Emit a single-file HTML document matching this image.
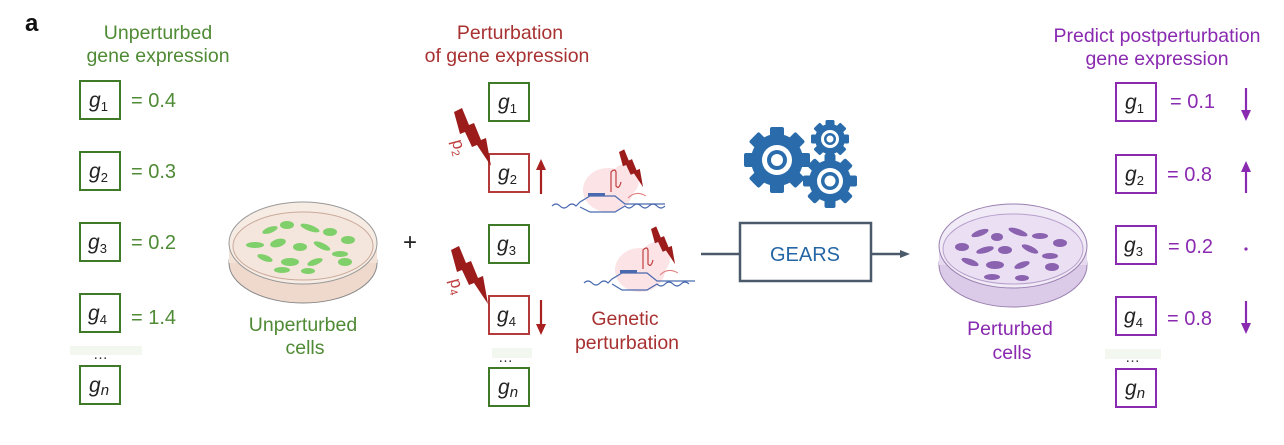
<!DOCTYPE html>
<html><head><meta charset="utf-8"><style>
html,body{margin:0;padding:0;background:#fff;}
svg{display:block;font-family:"Liberation Sans",sans-serif;}
</style></head><body>
<svg width="1284" height="445" viewBox="0 0 1284 445" xmlns="http://www.w3.org/2000/svg">
<defs>
<path id="bolt" d="M0,0 L8,-4 L15,13 L20,11 L27,28 L32,26 L37,54 L23,33 L18,35 L11,20 L6,22 Z" fill="#9c1c1c"/>
</defs>
<text x="25" y="31" font-size="24" font-weight="bold" fill="#111">a</text>

<!-- Left column -->
<g fill="#4f8a35" font-size="19.5" text-anchor="middle">
<text x="158" y="39">Unperturbed</text>
<text x="158" y="62">gene expression</text>
</g>
<g fill="#fff" stroke="#3e7a28" stroke-width="2">
<rect x="80" y="81" width="40" height="38"/>
<rect x="80" y="152" width="40" height="38"/>
<rect x="80" y="223" width="40" height="38"/>
<rect x="80" y="294" width="40" height="38"/>
<rect x="80" y="366" width="40" height="38"/>
</g>
<rect x="70" y="346" width="72" height="9" fill="#f2f8f0"/>
<g font-size="21" font-style="italic" fill="#222">
<text x="89" y="107">g<tspan font-size="13" font-style="normal" dy="4">1</tspan></text>
<text x="89" y="178">g<tspan font-size="13" font-style="normal" dy="4">2</tspan></text>
<text x="88" y="249">g<tspan font-size="13" font-style="normal" dy="4">3</tspan></text>
<text x="88" y="320">g<tspan font-size="13" font-style="normal" dy="4">4</tspan></text>
<text x="89" y="392">g<tspan font-size="15" dy="3">n</tspan></text>
</g>
<text x="93" y="359" font-size="15" fill="#333">…</text>
<g font-size="20" fill="#4f8a35">
<text x="131" y="107">= 0.4</text>
<text x="131" y="178">= 0.3</text>
<text x="131" y="249">= 0.2</text>
<text x="131" y="324">= 1.4</text>
</g>

<!-- Left dish -->
<ellipse cx="303" cy="263" rx="74" ry="40" fill="#efd9cc" stroke="#888" stroke-width="1"/>
<rect x="229" y="243" width="148" height="20" fill="#f3e2d6"/>
<ellipse cx="303" cy="243" rx="74" ry="41" fill="#f6ece4" stroke="#999" stroke-width="1"/>
<ellipse cx="303" cy="246" rx="70" ry="34" fill="#f4e6dc" stroke="#c9a99a" stroke-width="1"/>
<g fill="#7fcf6a">
<ellipse cx="270" cy="230" rx="8" ry="3" transform="rotate(-20 270 230)"/>
<ellipse cx="287" cy="225" rx="7" ry="4"/>
<ellipse cx="310" cy="228" rx="10" ry="3" transform="rotate(20 310 228)"/>
<ellipse cx="330" cy="232" rx="7" ry="4"/>
<ellipse cx="348" cy="240" rx="7" ry="4"/>
<ellipse cx="255" cy="245" rx="9" ry="3"/>
<ellipse cx="278" cy="243" rx="8" ry="4" transform="rotate(-15 278 243)"/>
<ellipse cx="300" cy="247" rx="7" ry="4"/>
<ellipse cx="322" cy="246" rx="9" ry="3" transform="rotate(25 322 246)"/>
<ellipse cx="340" cy="254" rx="8" ry="3"/>
<ellipse cx="265" cy="258" rx="8" ry="3" transform="rotate(20 265 258)"/>
<ellipse cx="290" cy="262" rx="9" ry="4"/>
<ellipse cx="315" cy="262" rx="8" ry="3" transform="rotate(-20 315 262)"/>
<ellipse cx="345" cy="262" rx="7" ry="4"/>
<ellipse cx="282" cy="270" rx="8" ry="3"/>
<ellipse cx="308" cy="271" rx="7" ry="3"/>
</g>
<g fill="#4f8a35" font-size="19.5" text-anchor="middle">
<text x="303" y="331">Unperturbed</text>
<text x="305" y="354">cells</text>
</g>

<text x="410" y="250" font-size="24" fill="#222" text-anchor="middle">+</text>

<!-- Middle column -->
<g fill="#a83232" font-size="19.5" text-anchor="middle">
<text x="510" y="39">Perturbation</text>
<text x="507" y="62">of gene expression</text>
</g>
<g fill="#fff" stroke-width="2">
<rect x="489" y="83" width="40" height="38" stroke="#3e7a28"/>
<rect x="489" y="154" width="40" height="38" stroke="#b53a3a"/>
<rect x="489" y="225" width="40" height="38" stroke="#3e7a28"/>
<rect x="489" y="296" width="40" height="38" stroke="#b53a3a"/>
<rect x="489" y="368" width="40" height="38" stroke="#3e7a28"/>
</g>
<rect x="492" y="348" width="40" height="10" fill="#f2f8f0"/>
<g font-size="21" font-style="italic" fill="#222">
<text x="498" y="109">g<tspan font-size="13" font-style="normal" dy="4">1</tspan></text>
<text x="498" y="180">g<tspan font-size="13" font-style="normal" dy="4">2</tspan></text>
<text x="497" y="251">g<tspan font-size="13" font-style="normal" dy="4">3</tspan></text>
<text x="497" y="322">g<tspan font-size="13" font-style="normal" dy="4">4</tspan></text>
<text x="498" y="394">g<tspan font-size="15" dy="3">n</tspan></text>
</g>
<text x="498" y="362" font-size="15" fill="#333">…</text>
<g stroke="#a82020" stroke-width="2.2" fill="#a82020">
<line x1="541" y1="194" x2="541" y2="168"/><polygon points="536,170 546,170 541,159" stroke="none"/>
<line x1="541" y1="300" x2="541" y2="326"/><polygon points="536,324 546,324 541,335" stroke="none"/>
</g>
<use href="#bolt" x="454" y="112"/>
<use href="#bolt" x="451" y="250"/>
<text x="448" y="146" font-size="17" fill="#c04040" transform="rotate(75 453 146)">p<tspan font-size="11" dy="3">2</tspan></text>
<text x="446" y="285" font-size="17" fill="#c04040" transform="rotate(75 451 285)">p<tspan font-size="11" dy="3">4</tspan></text>

<!-- DNA illustrations -->
<g>
<ellipse cx="608" cy="190" rx="25" ry="22" fill="#fbe3e6"/>
<ellipse cx="625" cy="180" rx="14" ry="16" fill="#fbe3e6"/>
<path d="M552,206 q4,-4 8,0 t8,0 t8,0 L580,202 L590,196 L615,196 L625,204 L665,204" stroke="#4a6ab0" fill="none" stroke-width="1.2"/>
<path d="M580,207 L590,212 L615,212 L625,206 q4,4 8,0 t8,0 t8,0 t8,0 t8,0" stroke="#4a6ab0" fill="none" stroke-width="1.2"/>
<rect x="588" y="193" width="17" height="3" fill="#4a6ab0"/>
<path d="M611,192 L611,172 q4,-4 5,0 L616,186 q3,4 5,-4" stroke="#c04040" fill="none" stroke-width="1.2"/>
<path d="M628,198 q8,-8 18,-2" stroke="#e08080" fill="none" stroke-width="1"/>
<use href="#bolt" transform="translate(619 152) scale(0.65)"/>
</g>
<g>
<ellipse cx="640" cy="270" rx="25" ry="22" fill="#fbe3e6"/>
<ellipse cx="656" cy="258" rx="14" ry="16" fill="#fbe3e6"/>
<path d="M584,283 q4,-4 8,0 t8,0 t8,0 L612,279 L622,273 L647,273 L657,281 L695,281" stroke="#4a6ab0" fill="none" stroke-width="1.2"/>
<path d="M612,284 L622,290 L647,290 L657,284 q4,4 8,0 t8,0 t8,0 t8,0" stroke="#4a6ab0" fill="none" stroke-width="1.2"/>
<rect x="620" y="270" width="17" height="3" fill="#4a6ab0"/>
<path d="M643,269 L643,250 q4,-4 5,0 L648,264 q3,4 5,-4" stroke="#c04040" fill="none" stroke-width="1.2"/>
<path d="M660,275 q8,-8 18,-2" stroke="#e08080" fill="none" stroke-width="1"/>
<use href="#bolt" transform="translate(651 229) scale(0.65)"/>
</g>
<g fill="#a83232" font-size="19.5" text-anchor="middle">
<text x="625" y="325">Genetic</text>
<text x="627" y="349">perturbation</text>
</g>

<!-- Gears -->
<g fill="#2a6cab">
<g transform="translate(777 160)">
<circle r="26"/>
<g><rect x="-7" y="-33" width="14" height="66" rx="2"/><rect x="-7" y="-33" width="14" height="66" rx="2" transform="rotate(45)"/><rect x="-7" y="-33" width="14" height="66" rx="2" transform="rotate(90)"/><rect x="-7" y="-33" width="14" height="66" rx="2" transform="rotate(135)"/></g>
<circle r="15" fill="#fff"/><circle r="10"/>
<circle r="6" fill="#fff"/>
</g>
<g transform="translate(830 139)">
<circle r="15"/>
<g><rect x="-4.5" y="-19" width="9" height="38" rx="1.5"/><rect x="-4.5" y="-19" width="9" height="38" rx="1.5" transform="rotate(45)"/><rect x="-4.5" y="-19" width="9" height="38" rx="1.5" transform="rotate(90)"/><rect x="-4.5" y="-19" width="9" height="38" rx="1.5" transform="rotate(135)"/></g>
<circle r="9" fill="#fff"/><circle r="6"/><circle r="3.5" fill="#fff"/>
</g>
<g transform="translate(830 181)">
<circle r="21"/>
<g><rect x="-5.5" y="-27" width="11" height="54" rx="2"/><rect x="-5.5" y="-27" width="11" height="54" rx="2" transform="rotate(45)"/><rect x="-5.5" y="-27" width="11" height="54" rx="2" transform="rotate(90)"/><rect x="-5.5" y="-27" width="11" height="54" rx="2" transform="rotate(135)"/></g>
<circle r="13" fill="#fff"/><circle r="9"/><circle r="5.5" fill="#fff"/>
</g>
</g>

<!-- GEARS box -->
<line x1="701" y1="254" x2="740" y2="254" stroke="#4b5a6a" stroke-width="2.5"/>
<rect x="740" y="223" width="131" height="58" fill="#fff" stroke="#4b5a6a" stroke-width="2.5"/>
<text x="805" y="261" font-size="20" fill="#2566a6" text-anchor="middle">GEARS</text>
<line x1="871" y1="254" x2="903" y2="254" stroke="#4b5a6a" stroke-width="2.5"/>
<polygon points="900,250 910,254 900,258" fill="#4b5a6a"/>

<!-- Right dish -->
<ellipse cx="1013" cy="265" rx="74" ry="42" fill="#dccbe8" stroke="#9a80b0" stroke-width="1"/>
<rect x="939" y="246" width="148" height="19" fill="#e6daf0"/>
<ellipse cx="1013" cy="246" rx="74" ry="42" fill="#f1eaf7" stroke="#9a80b0" stroke-width="1"/>
<ellipse cx="1013" cy="249" rx="70" ry="35" fill="#ebe0f3" stroke="#b8a0cc" stroke-width="1"/>
<g fill="#8a62b0">
<ellipse cx="980" cy="233" rx="9" ry="3" transform="rotate(-20 980 233)"/>
<ellipse cx="997" cy="237" rx="6" ry="4"/>
<ellipse cx="1018" cy="232" rx="10" ry="3" transform="rotate(20 1018 232)"/>
<ellipse cx="1040" cy="236" rx="8" ry="3"/>
<ellipse cx="1060" cy="243" rx="7" ry="4"/>
<ellipse cx="962" cy="247" rx="7" ry="4"/>
<ellipse cx="985" cy="250" rx="9" ry="3" transform="rotate(-15 985 250)"/>
<ellipse cx="1005" cy="250" rx="7" ry="4"/>
<ellipse cx="1030" cy="249" rx="9" ry="3" transform="rotate(25 1030 249)"/>
<ellipse cx="1050" cy="256" rx="8" ry="3"/>
<ellipse cx="970" cy="262" rx="9" ry="3" transform="rotate(20 970 262)"/>
<ellipse cx="995" cy="265" rx="9" ry="4"/>
<ellipse cx="1022" cy="265" rx="8" ry="3" transform="rotate(-20 1022 265)"/>
<ellipse cx="1052" cy="267" rx="7" ry="4"/>
<ellipse cx="992" cy="277" rx="8" ry="3"/>
<ellipse cx="1022" cy="278" rx="7" ry="3"/>
</g>
<g fill="#8a2ab0" font-size="19.5" text-anchor="middle">
<text x="1010" y="335">Perturbed</text>
<text x="1012" y="359">cells</text>
</g>

<!-- Right column -->
<g fill="#8a2ab0" font-size="19.5" text-anchor="middle">
<text x="1157" y="42">Predict postperturbation</text>
<text x="1157" y="65">gene expression</text>
</g>
<g fill="#fff" stroke="#8a2ab0" stroke-width="2">
<rect x="1116" y="83" width="40" height="38"/>
<rect x="1116" y="155" width="40" height="38"/>
<rect x="1116" y="226" width="40" height="38"/>
<rect x="1116" y="297" width="40" height="38"/>
<rect x="1116" y="369" width="40" height="38"/>
</g>
<rect x="1105" y="349" width="56" height="10" fill="#f2f8f0"/>
<g font-size="21" font-style="italic" fill="#222">
<text x="1125" y="109">g<tspan font-size="13" font-style="normal" dy="4">1</tspan></text>
<text x="1125" y="181">g<tspan font-size="13" font-style="normal" dy="4">2</tspan></text>
<text x="1124" y="252">g<tspan font-size="13" font-style="normal" dy="4">3</tspan></text>
<text x="1124" y="323">g<tspan font-size="13" font-style="normal" dy="4">4</tspan></text>
<text x="1125" y="395">g<tspan font-size="15" dy="3">n</tspan></text>
</g>
<text x="1125" y="362" font-size="15" fill="#333">…</text>
<g font-size="20" fill="#8a2ab0">
<text x="1170" y="108">= 0.1</text>
<text x="1167" y="181">= 0.8</text>
<text x="1168" y="253">= 0.2</text>
<text x="1167" y="325">= 0.8</text>
</g>
<g stroke="#8a2ab0" stroke-width="2.2" fill="#8a2ab0">
<line x1="1246" y1="88" x2="1246" y2="112"/><polygon points="1241,110 1251,110 1246,121" stroke="none"/>
<line x1="1246" y1="193" x2="1246" y2="170"/><polygon points="1241,172 1251,172 1246,161" stroke="none"/>
<circle cx="1246" cy="249" r="1.6" stroke="none"/>
<line x1="1246" y1="301" x2="1246" y2="325"/><polygon points="1241,323 1251,323 1246,334" stroke="none"/>
</g>
</svg>
</body></html>
